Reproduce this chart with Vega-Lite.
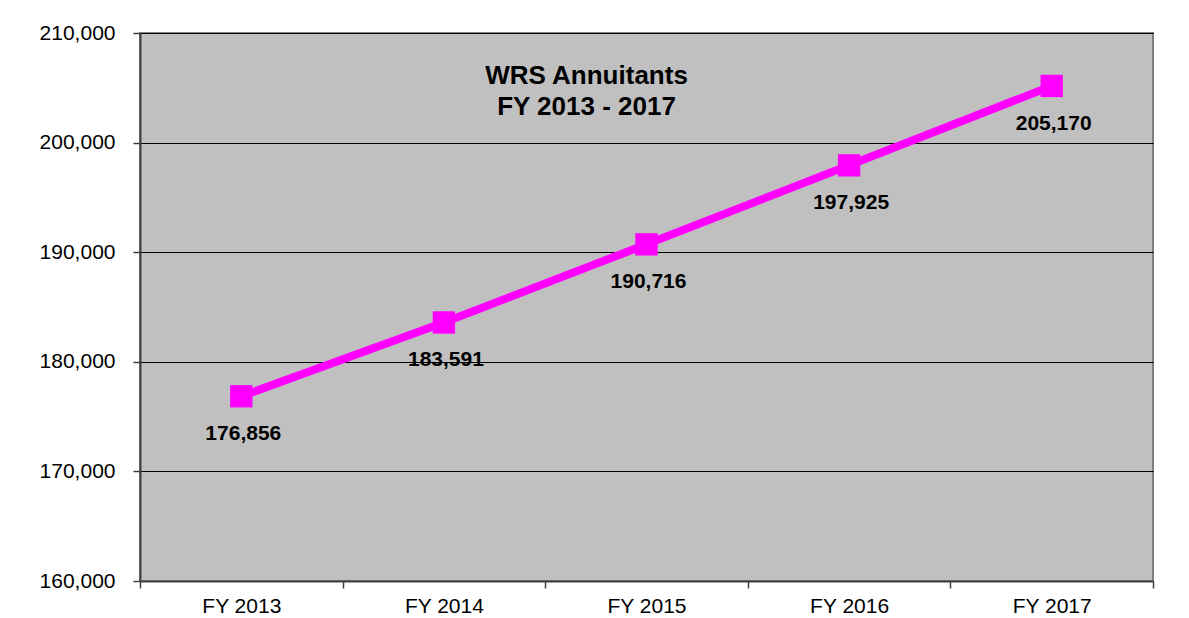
{
  "$schema": "https://vega.github.io/schema/vega-lite/v6.json",
  "autosize": "none",
  "width": 1013,
  "height": 548,
  "padding": {"left": 140, "top": 33, "right": 36, "bottom": 37},
  "background": "white",
  "config": {
    "font": "Liberation Sans",
    "view": {"fill": "#C0C0C0", "stroke": "#808080", "strokeWidth": 2}
  },
  "title": {
    "text": ["WRS Annuitants", "FY 2013 - 2017"],
    "fontSize": 26, "fontWeight": "bold", "color": "#000000", "font": "Liberation Sans",
    "lineHeight": 31, "anchor": "middle", "frame": "group", "baseline": "top",
    "dx": -60, "offset": -98, "orient": "top"
  },
  "data": {
    "values": [
      {"year": "FY 2013", "value": 176856},
      {"year": "FY 2014", "value": 183591},
      {"year": "FY 2015", "value": 190716},
      {"year": "FY 2016", "value": 197925},
      {"year": "FY 2017", "value": 205170}
    ]
  },
  "encoding": {
    "x": {
      "field": "year", "type": "nominal", "sort": null,
      "scale": {"type": "band", "paddingInner": 0, "paddingOuter": 0},
      "axis": {
        "title": null, "labelAngle": 0, "tickBand": "extent", "tickSize": 7,
        "tickColor": "#404040", "tickWidth": 1.5, "domainColor": "#404040", "domainWidth": 2,
        "labelFontSize": 21, "labelColor": "#000000", "labelPadding": 7, "grid": false
      }
    },
    "y": {
      "field": "value", "type": "quantitative",
      "scale": {"domain": [160000, 210000], "nice": false, "zero": false},
      "axis": {
        "title": null, "tickCount": 5, "labelExpr": "format(datum.value, ',')",
        "tickSize": 7, "tickColor": "#404040", "tickWidth": 1.5,
        "domainColor": "#404040", "domainWidth": 2,
        "labelFontSize": 21, "labelColor": "#000000", "labelPadding": 18,
        "grid": true, "gridColor": "#000000", "gridWidth": 1, "gridOpacity": 1
      }
    }
  },
  "layer": [
    {"mark": {"type": "line", "color": "#FF00FF", "strokeWidth": 8}},
    {"mark": {"type": "point", "shape": "square", "filled": true, "color": "#FF00FF", "opacity": 1, "size": 500}},
    {
      "mark": {"type": "text", "fontSize": 21, "fontWeight": "bold", "color": "#000000", "dy": 38, "dx": 2, "baseline": "middle"},
      "encoding": {"text": {"field": "value", "type": "quantitative", "format": ","}}
    }
  ]
}
